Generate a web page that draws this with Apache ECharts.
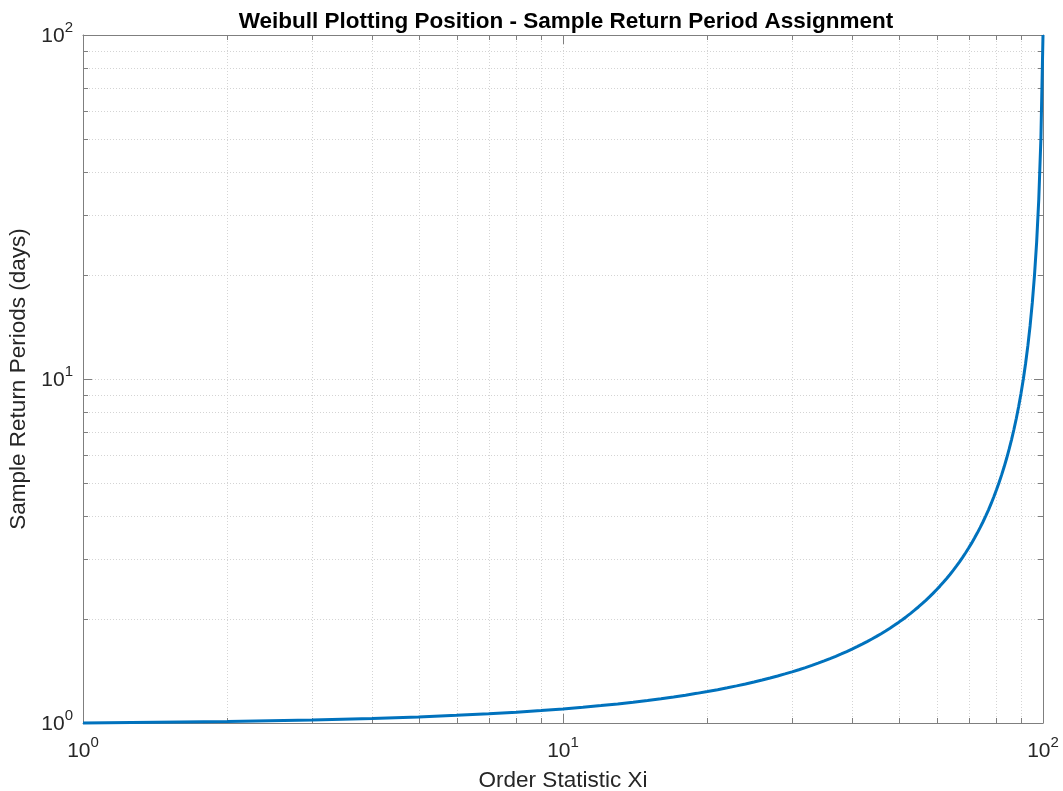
<!DOCTYPE html>
<html>
<head>
<meta charset="utf-8">
<title>Weibull Plotting Position</title>
<script src="https://cdn.jsdelivr.net/npm/echarts@6/dist/echarts.min.js"></script>
<style>
  html, body { margin: 0; padding: 0; background: #fff; }
  #chart { width: 1063px; height: 791px; }
</style>
</head>
<body>
<div id="chart"></div>
<script>
// Order statistic (rank) of each sample
const orderStat = [
  1, 2, 3, 4, 5, 6, 7, 8, 9, 10,
  11, 12, 13, 14, 15, 16, 17, 18, 19, 20,
  21, 22, 23, 24, 25, 26, 27, 28, 29, 30,
  31, 32, 33, 34, 35, 36, 37, 38, 39, 40,
  41, 42, 43, 44, 45, 46, 47, 48, 49, 50,
  51, 52, 53, 54, 55, 56, 57, 58, 59, 60,
  61, 62, 63, 64, 65, 66, 67, 68, 69, 70,
  71, 72, 73, 74, 75, 76, 77, 78, 79, 80,
  81, 82, 83, 84, 85, 86, 87, 88, 89, 90,
  91, 92, 93, 94, 95, 96, 97, 98, 99, 100
];

// Sample return period assigned to each rank (days)
const returnPeriod = [
  1.0000, 1.0101, 1.0204, 1.0309, 1.0417, 1.0526, 1.0638, 1.0753, 1.0870, 1.0989,
  1.1111, 1.1236, 1.1364, 1.1494, 1.1628, 1.1765, 1.1905, 1.2048, 1.2195, 1.2346,
  1.2500, 1.2658, 1.2821, 1.2987, 1.3158, 1.3333, 1.3514, 1.3699, 1.3889, 1.4085,
  1.4286, 1.4493, 1.4706, 1.4925, 1.5152, 1.5385, 1.5625, 1.5873, 1.6129, 1.6393,
  1.6667, 1.6949, 1.7241, 1.7544, 1.7857, 1.8182, 1.8519, 1.8868, 1.9231, 1.9608,
  2.0000, 2.0408, 2.0833, 2.1277, 2.1739, 2.2222, 2.2727, 2.3256, 2.3810, 2.4390,
  2.5000, 2.5641, 2.6316, 2.7027, 2.7778, 2.8571, 2.9412, 3.0303, 3.1250, 3.2258,
  3.3333, 3.4483, 3.5714, 3.7037, 3.8462, 4.0000, 4.1667, 4.3478, 4.5455, 4.7619,
  5.0000, 5.2632, 5.5556, 5.8824, 6.2500, 6.6667, 7.1429, 7.6923, 8.3333, 9.0909,
  10.000, 11.111, 12.500, 14.286, 16.667, 20.000, 25.000, 33.333, 50.000, 100.00
];

// Axis limits and minor (2..9 per decade) grid positions
const xLimits = [1, 100];
const yLimits = [1, 100];
const xMinor = [2, 3, 4, 5, 6, 7, 8, 9, 20, 30, 40, 50, 60, 70, 80, 90];
const yMinor = [2, 3, 4, 5, 6, 7, 8, 9, 20, 30, 40, 50, 60, 70, 80, 90];

const FONT = '"Liberation Sans", Arial, Helvetica, sans-serif';
const AXIS_COLOR = '#7f7f7f';
const TEXT_COLOR = '#262626';
const GRID_COLOR = '#d4d4d4';
const GRID_DASH = [1, 2];
const MINOR_TICK = 5;
const MAJOR_TICK = 9;

// Tick labels as powers of ten: base followed by a raised exponent
const powLabel = v => '{b|10}{e|' + Math.round(Math.log10(v)) + '}';
const powRich = {
  b: { fontSize: 21, fontFamily: FONT, color: TEXT_COLOR, lineHeight: 24, verticalAlign: 'bottom' },
  e: { fontSize: 15, fontFamily: FONT, color: TEXT_COLOR, lineHeight: 15, padding: [0, 0, 12, 0], verticalAlign: 'bottom' }
};

function logAxis(extra) {
  return Object.assign({
    type: 'log',
    logBase: 10,
    axisLine: { show: true, lineStyle: { color: AXIS_COLOR, width: 1 } },
    axisTick: { show: true, inside: true, length: MAJOR_TICK, lineStyle: { color: AXIS_COLOR, width: 1 } },
    minorTick: { show: false },
    splitLine: { show: false },
    axisLabel: { show: false }
  }, extra);
}

const chart = echarts.init(document.getElementById('chart'), null, { renderer: 'canvas' });

// Minor vertical grid lines plus inside ticks on bottom and top edges
function renderXMinor(params, api) {
  const v = api.value(0);
  const p0 = api.coord([v, yLimits[0]]);
  const p1 = api.coord([v, yLimits[1]]);
  const x = Math.round(p0[0]) + 0.5;
  return {
    type: 'group',
    children: [
      { type: 'line', shape: { x1: x, y1: p0[1], x2: x, y2: p1[1] },
        style: { stroke: GRID_COLOR, lineWidth: 1, lineDash: GRID_DASH } },
      { type: 'line', shape: { x1: x, y1: p0[1], x2: x, y2: p0[1] - MINOR_TICK },
        style: { stroke: AXIS_COLOR, lineWidth: 1 } },
      { type: 'line', shape: { x1: x, y1: p1[1], x2: x, y2: p1[1] + MINOR_TICK },
        style: { stroke: AXIS_COLOR, lineWidth: 1 } }
    ]
  };
}

// Minor horizontal grid lines plus inside ticks on left and right edges
function renderYMinor(params, api) {
  const v = api.value(1);
  const p0 = api.coord([xLimits[0], v]);
  const p1 = api.coord([xLimits[1], v]);
  const y = Math.round(p0[1]) + 0.5;
  return {
    type: 'group',
    children: [
      { type: 'line', shape: { x1: p0[0], y1: y, x2: p1[0], y2: y },
        style: { stroke: GRID_COLOR, lineWidth: 1, lineDash: GRID_DASH } },
      { type: 'line', shape: { x1: p0[0], y1: y, x2: p0[0] + MINOR_TICK, y2: y },
        style: { stroke: AXIS_COLOR, lineWidth: 1 } },
      { type: 'line', shape: { x1: p1[0], y1: y, x2: p1[0] - MINOR_TICK, y2: y },
        style: { stroke: AXIS_COLOR, lineWidth: 1 } }
    ]
  };
}

chart.setOption({
  animation: false,
  backgroundColor: '#ffffff',
  title: {
    text: 'Weibull Plotting Position - Sample Return Period Assignment',
    left: 561,
    textAlign: 'center',
    top: 5,
    textStyle: { fontFamily: FONT, fontSize: 22.5, fontWeight: 'bold', color: '#000000' }
  },
  grid: { left: 83, right: 20, top: 35, bottom: 68, containLabel: false, outerBoundsMode: 'none' },
  xAxis: [
    logAxis({
      position: 'bottom',
      min: xLimits[0], max: xLimits[1],
      name: 'Order Statistic Xi',
      nameLocation: 'middle',
      nameGap: 46,
      nameTextStyle: { fontFamily: FONT, fontSize: 22.5, color: TEXT_COLOR },
      splitLine: { show: true, lineStyle: { color: GRID_COLOR, width: 1, type: GRID_DASH } },
      axisLabel: { show: true, margin: 15, formatter: powLabel, rich: powRich }
    }),
    logAxis({ position: 'top', min: xLimits[0], max: xLimits[1] })
  ],
  yAxis: [
    logAxis({
      position: 'left',
      min: yLimits[0], max: yLimits[1],
      name: 'Sample Return Periods (days)',
      nameLocation: 'middle',
      nameGap: 52,
      nameRotate: 90,
      nameTextStyle: { fontFamily: FONT, fontSize: 22.5, color: TEXT_COLOR },
      splitLine: { show: true, lineStyle: { color: GRID_COLOR, width: 1, type: GRID_DASH } },
      axisLabel: { show: true, margin: 10, formatter: powLabel, rich: powRich }
    }),
    logAxis({ position: 'right', min: yLimits[0], max: yLimits[1] })
  ],
  series: [
    {
      type: 'custom',
      xAxisIndex: 0, yAxisIndex: 0,
      renderItem: renderXMinor,
      data: xMinor.map(v => [v, yLimits[0]]),
      silent: true, clip: false, z: 1
    },
    {
      type: 'custom',
      xAxisIndex: 0, yAxisIndex: 0,
      renderItem: renderYMinor,
      data: yMinor.map(v => [xLimits[0], v]),
      silent: true, clip: false, z: 1
    },
    {
      type: 'line',
      xAxisIndex: 0, yAxisIndex: 0,
      data: orderStat.map((x, i) => [x, returnPeriod[i]]),
      showSymbol: false,
      symbol: 'none',
      smooth: false,
      clip: false,
      lineStyle: { color: '#0072BD', width: 3 },
      z: 5
    }
  ]
});
</script>
</body>
</html>
